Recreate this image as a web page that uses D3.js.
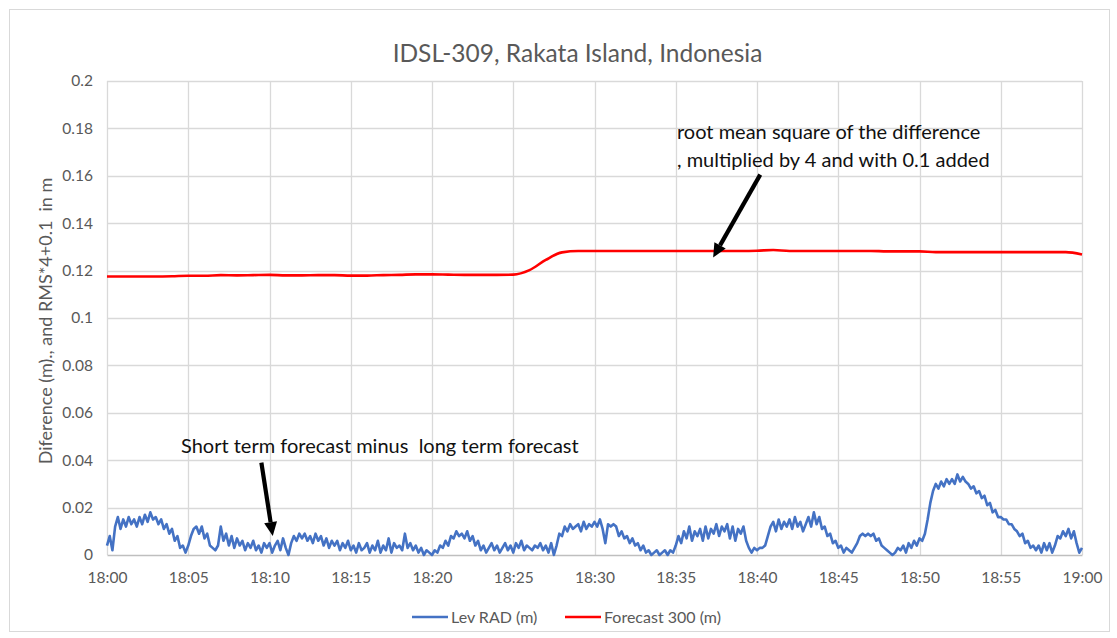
<!DOCTYPE html>
<html>
<head>
<meta charset="utf-8">
<script src="https://cdn.jsdelivr.net/npm/d3@7"></script>
<style>
html,body{margin:0;padding:0;background:#fff;}
svg{display:block;font-family:Lato, "Open Sans", sans-serif;}
svg text{white-space:pre;}
</style>
</head>
<body>
<svg id="chart" width="1117" height="638"></svg>
<script>
// ---- DATA ----
const chartTitle = "IDSL-309, Rakata Island, Indonesia";
const yAxisTitle = "Diference (m)., and RMS*4+0.1  in m";
const xTickMinutes = [0,5,10,15,20,25,30,35,40,45,50,55,60];
const xTickLabels = ["18:00","18:05","18:10","18:15","18:20","18:25","18:30","18:35","18:40","18:45","18:50","18:55","19:00"];
const yTickValues = [0,0.02,0.04,0.06,0.08,0.1,0.12,0.14,0.16,0.18,0.2];
const yTickLabels = ["0","0.02","0.04","0.06","0.08","0.1","0.12","0.14","0.16","0.18","0.2"];
const seriesNames = ["Lev RAD (m)","Forecast 300 (m)"];

// Lev RAD (m): one value every 10 s from 18:00 to 19:00
const levRad = [
0.004,0.008,0.002,0.012,0.016,0.011,
0.015,0.012,0.016,0.013,0.015,0.012,
0.016,0.013,0.017,0.014,0.018,0.015,
0.016,0.013,0.015,0.011,0.013,0.009,
0.011,0.006,0.008,0.003,0.004,0.001,
0.004,0.008,0.011,0.012,0.009,0.012,
0.007,0.009,0.004,0.003,0.002,0.004,
0.012,0.006,0.009,0.004,0.008,0.003,
0.007,0.004,0.006,0.002,0.005,0.003,
0.006,0.002,0.004,0.001,0.005,0.003,
0.005,0.001,0.004,0.006,0.002,0.007,
0.003,0.000,0.005,0.008,0.006,0.009,
0.007,0.009,0.006,0.008,0.005,0.009,
0.006,0.008,0.004,0.007,0.003,0.006,
0.004,0.006,0.002,0.005,0.003,0.006,
0.002,0.004,0.001,0.005,0.002,0.003,
0.005,0.001,0.004,0.002,0.006,0.001,
0.004,0.002,0.007,0.001,0.005,0.003,
0.004,0.002,0.009,0.003,0.005,0.002,
0.004,0.001,0.003,0.000,0.002,0.001,
0.000,0.002,0.001,0.004,0.003,0.006,
0.004,0.008,0.007,0.010,0.008,0.009,
0.007,0.010,0.006,0.008,0.004,0.006,
0.002,0.004,0.001,0.003,0.005,0.002,
0.004,0.001,0.003,0.005,0.002,0.004,
0.001,0.005,0.003,0.006,0.002,0.004,
0.003,0.002,0.004,0.003,0.005,0.002,
0.004,0.001,0.005,0.000,0.004,0.009,
0.008,0.012,0.010,0.013,0.011,0.012,
0.013,0.010,0.014,0.011,0.013,0.012,
0.014,0.012,0.015,0.011,0.005,0.013,
0.012,0.013,0.012,0.008,0.010,0.007,
0.008,0.005,0.007,0.004,0.005,0.002,
0.004,0.001,0.002,0.000,0.001,0.002,
0.000,0.001,0.002,0.000,0.002,0.001,
0.004,0.008,0.005,0.010,0.007,0.012,
0.006,0.010,0.008,0.011,0.006,0.012,
0.007,0.011,0.009,0.013,0.008,0.012,
0.010,0.013,0.007,0.012,0.006,0.011,
0.009,0.012,0.006,0.003,0.001,0.003,
0.002,0.003,0.003,0.004,0.008,0.012,
0.014,0.010,0.015,0.011,0.014,0.012,
0.015,0.011,0.016,0.012,0.014,0.010,
0.013,0.016,0.012,0.018,0.013,0.016,
0.011,0.012,0.008,0.009,0.005,0.006,
0.003,0.004,0.001,0.003,0.002,0.001,
0.003,0.005,0.008,0.009,0.008,0.009,
0.008,0.009,0.006,0.007,0.004,0.003,
0.002,0.001,0.000,0.001,0.003,0.002,
0.004,0.001,0.005,0.003,0.006,0.004,
0.007,0.006,0.009,0.015,0.022,0.027,
0.030,0.028,0.031,0.029,0.032,0.030,
0.032,0.030,0.034,0.031,0.033,0.031,
0.030,0.028,0.029,0.026,0.027,0.024,
0.025,0.021,0.022,0.018,0.019,0.016,
0.016,0.015,0.015,0.013,0.013,0.011,
0.010,0.008,0.009,0.005,0.006,0.003,
0.004,0.002,0.004,0.001,0.005,0.002,
0.005,0.001,0.004,0.008,0.007,0.010,
0.008,0.011,0.007,0.010,0.005,0.001,
0.003
];
// Forecast 300 (m): one value per minute from 18:00 to 19:00
const forecast300 = [
0.1175,0.1175,0.1175,0.1175,0.1176,0.1178,0.1178,0.1181,0.1180,0.1181,
0.1182,0.1180,0.1180,0.1181,0.1181,0.1179,0.1179,0.1181,0.1182,0.1184,
0.1184,0.1183,0.1182,0.1182,0.1182,0.1183,0.1202,0.1245,0.1277,0.1283,
0.1283,0.1283,0.1283,0.1283,0.1283,0.1283,0.1283,0.1283,0.1283,0.1283,
0.1284,0.1287,0.1283,0.1283,0.1283,0.1283,0.1283,0.1283,0.1281,0.1281,
0.1281,0.1278,0.1278,0.1278,0.1278,0.1278,0.1278,0.1278,0.1278,0.1278,
0.1268
];
const annotations = [
  {lines:["Short term forecast minus  long term forecast"], tx:181, ty:453, tipMin:10.2, tipVal:0.008, startMin:9.5, startVal:0.039},
  {lines:["root mean square of the difference", ", multiplied by 4 and with 0.1 added"], tx:677, ty:139, tipMin:37.3, tipVal:0.1255, startMin:40.2, startVal:0.1605}
];

// ---- CHART ----
const svg = d3.select("#chart");
const m = {left:107, right:1082, top:81, bottom:555};
const textColor = "#595959", gridColor = "#d9d9d9";

svg.append("rect").attr("x",9.5).attr("y",9.5).attr("width",1100).attr("height",622)
  .attr("fill","#fff").attr("stroke",gridColor).attr("stroke-width",1);

const x = d3.scaleLinear().domain([0,60]).range([m.left,m.right]);
const y = d3.scaleLinear().domain([0,0.2]).range([m.bottom,m.top]);

// horizontal grid
svg.append("g").selectAll("line").data(yTickValues.slice(1)).join("line")
  .attr("x1",m.left).attr("x2",m.right)
  .attr("y1",d=>Math.round(y(d))+0.5).attr("y2",d=>Math.round(y(d))+0.5)
  .attr("stroke",gridColor).attr("stroke-width",1.3);
// vertical grid
svg.append("g").selectAll("line").data(xTickMinutes).join("line")
  .attr("x1",d=>Math.round(x(d))+0.5).attr("x2",d=>Math.round(x(d))+0.5)
  .attr("y1",m.top).attr("y2",m.bottom)
  .attr("stroke",gridColor).attr("stroke-width",1.3);

// x axis
const xAxis = d3.axisBottom(x).tickValues(xTickMinutes)
  .tickFormat((d,i)=>xTickLabels[i]).tickSize(0).tickPadding(17);
const gx = svg.append("g").attr("transform",`translate(0,${m.bottom})`).call(xAxis);
gx.select(".domain").attr("stroke","#bfbfbf").attr("stroke-width",1.3);
gx.selectAll("text").attr("fill",textColor).attr("font-size",15.5)
  .attr("font-family","Lato, sans-serif");

// y axis
const yAxis = d3.axisLeft(y).tickValues(yTickValues)
  .tickFormat((d,i)=>yTickLabels[i]).tickSize(0).tickPadding(14);
const gy = svg.append("g").attr("transform",`translate(${m.left},0)`).call(yAxis);
gy.select(".domain").remove();
gy.selectAll("text").attr("fill",textColor).attr("font-size",15.5).attr("font-family","Lato, sans-serif");

// title
svg.append("text").attr("x",(m.left+m.right)/2-17).attr("y",62).attr("text-anchor","middle")
  .attr("fill",textColor).attr("font-size",24.5).text(chartTitle);

// y title
svg.append("text").attr("transform",`translate(52,${321}) rotate(-90)`)
  .attr("text-anchor","middle").attr("fill",textColor).attr("font-size",18).text(yAxisTitle);

// lines
const lineBlue = d3.line().x((d,i)=>x(i/6)).y(d=>y(d));
const lineRed = d3.line().x((d,i)=>x(i)).y(d=>y(d)).curve(d3.curveMonotoneX);
svg.append("path").datum(levRad).attr("d",lineBlue).attr("fill","none")
  .attr("stroke","#4472C4").attr("stroke-width",2.6).attr("stroke-linejoin","round");
svg.append("path").datum(forecast300).attr("d",lineRed).attr("fill","none")
  .attr("stroke","#FF0000").attr("stroke-width",2.6).attr("stroke-linejoin","round");

// annotations
annotations.forEach(a=>{
  const t = svg.append("text").attr("x",a.tx).attr("y",a.ty).attr("fill","#111")
    .attr("font-size",20);
  a.lines.forEach((l,i)=>t.append("tspan").attr("x",a.tx).attr("dy",i===0?0:28).text(l));
  const x0 = x(a.startMin), y0 = y(a.startVal), x1 = x(a.tipMin), y1 = y(a.tipVal);
  const ang = Math.atan2(y1-y0,x1-x0);
  const hl = 14, hw = 6.5;
  const bx = x1 - hl*Math.cos(ang), by = y1 - hl*Math.sin(ang);
  svg.append("line").attr("x1",x0).attr("y1",y0).attr("x2",bx).attr("y2",by)
    .attr("stroke","#000").attr("stroke-width",4.2);
  svg.append("polygon").attr("fill","#000").attr("points",[
    [x1,y1],
    [bx + hw*Math.sin(ang), by - hw*Math.cos(ang)],
    [bx - hw*Math.sin(ang), by + hw*Math.cos(ang)]
  ].map(p=>p.join(",")).join(" "));
});

// legend
const legendItems = [
  {name:seriesNames[0], color:"#4472C4", x:412},
  {name:seriesNames[1], color:"#FF0000", x:565}
];
const lg = svg.append("g");
legendItems.forEach(it=>{
  lg.append("line").attr("x1",it.x).attr("x2",it.x+36).attr("y1",617).attr("y2",617)
    .attr("stroke",it.color).attr("stroke-width",2.6);
  lg.append("text").attr("x",it.x+39).attr("y",622.5).attr("fill",textColor)
    .attr("font-size",16).text(it.name);
});
</script>
</body>
</html>
